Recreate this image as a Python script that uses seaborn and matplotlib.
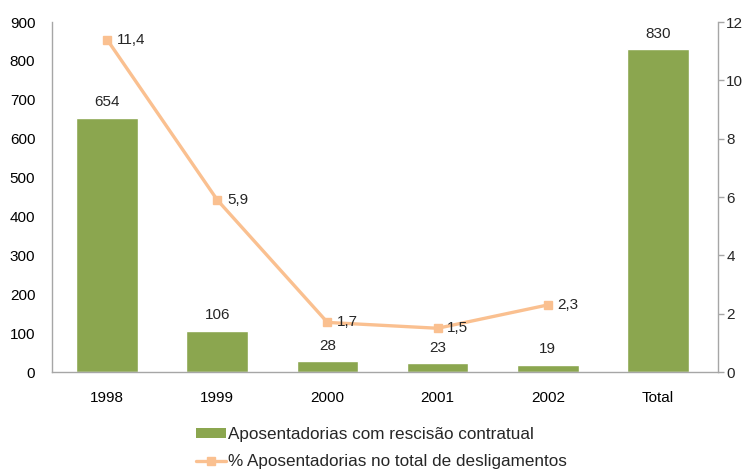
import matplotlib
matplotlib.use("Agg")
import matplotlib.pyplot as plt
import seaborn as sns
import pandas as pd
from matplotlib.patches import Patch
from matplotlib.lines import Line2D

categories = ["1998", "1999", "2000", "2001", "2002", "Total"]
bar_values = [654, 106, 28, 23, 19, 830]
line_categories = ["1998", "1999", "2000", "2001", "2002"]
line_values = [11.4, 5.9, 1.7, 1.5, 2.3]
line_labels = ["11,4", "5,9", "1,7", "1,5", "2,3"]
bar_name = "Aposentadorias com rescisão contratual"
line_name = "% Aposentadorias no total de desligamentos"

sns.set_theme(style="white")
plt.rcParams["font.family"] = ["Liberation Sans", "DejaVu Sans"]

bar_color = "#8BA64F"
line_color = "#FAC090"
spine_color = "#A6A6A6"
fs = 11

fig = plt.figure(figsize=(7.45, 4.70), dpi=100)
ax = fig.add_axes([0.0698, 0.2085, 0.894, 0.7445])

df = pd.DataFrame({"cat": categories, "val": bar_values})
sns.barplot(data=df, x="cat", y="val", order=categories, color=bar_color,
            saturation=1, width=0.56, ax=ax)
ax.set_ylim(0, 900)
ax.set_yticks(range(0, 901, 100))
ax.set_xlabel("")
ax.set_ylabel("")
ax.tick_params(axis="both", labelsize=fs, length=0, colors="black")
ax.tick_params(axis="x", pad=14)
ax.tick_params(axis="y", pad=12)
for s in ["top", "right"]:
    ax.spines[s].set_visible(False)
for s in ["left", "bottom"]:
    ax.spines[s].set_color(spine_color)
    ax.spines[s].set_linewidth(1)

for i, v in enumerate(bar_values):
    ax.text(i, v + 22, str(v), ha="center", va="bottom", fontsize=fs)

ax2 = ax.twinx()
ax2.plot(line_categories, line_values, color=line_color, lw=2.4,
         marker="s", markersize=6, markeredgecolor=line_color)
ax2.set_ylim(0, 12)
ax2.set_yticks(range(0, 13, 2))
ax2.tick_params(axis="y", labelsize=fs, length=4, width=1, color=spine_color,
                direction="out", pad=2)
for s in ["top", "left", "bottom"]:
    ax2.spines[s].set_visible(False)
ax2.spines["right"].set_color(spine_color)
ax2.spines["right"].set_linewidth(1)
for c, v, lab in zip(line_categories, line_values, line_labels):
    ax2.annotate(lab, (c, v), xytext=(7, 0), textcoords="offset points",
                 ha="left", va="center", fontsize=fs)

ax.set_xlim(-0.5, 5.545)

handles = [Patch(facecolor=bar_color, edgecolor="none"),
           Line2D([0], [0], color=line_color, lw=2.4, marker="s",
                  markersize=6, markeredgecolor=line_color)]
fig.legend(handles, [bar_name, line_name], loc="center",
           bbox_to_anchor=(0.512, 0.0468), frameon=False, fontsize=12.3,
           handlelength=1.75, handleheight=0.5, handletextpad=0.15,
           labelspacing=0.73, borderpad=0)

fig.savefig("out.png", dpi=100)
